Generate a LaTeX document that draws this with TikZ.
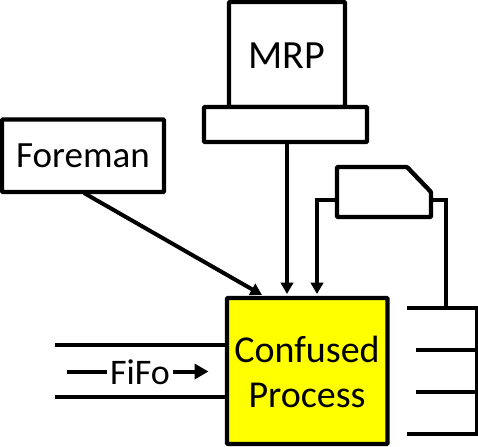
\documentclass[tikz,border=0pt]{standalone}
\usepackage{fontspec}
\setmainfont{Carlito}
\usetikzlibrary{arrows.meta}
\definecolor{cProc}{RGB}{255,255,0}
\tikzset{
  box/.style={draw=black,line width=4.4pt,rounded corners=1pt,inner sep=0pt,outer sep=0pt,anchor=north west},
  lbl/.style={font=\fontsize{38}{45}\selectfont},
  conn/.style={draw=black,line width=4pt},
  lane/.style={draw=black,line width=4.8pt},
  flow/.style={conn,-{Triangle[length=11.5pt,width=12.5pt]}}
}
\begin{document}
\begin{tikzpicture}[x=1pt,y=-1pt]
\useasboundingbox (0,0) rectangle (478,446);
\node[box,minimum width=116pt,minimum height=105pt] (mrp) at (229,2) {};
\node[lbl,font=\fontsize{40}{40}\selectfont] (mrplbl) at (286.5,56) {MRP};
\node[box,fill=white,minimum width=163pt,minimum height=35pt] (base) at (204,107) {};
\node[box,minimum width=162pt,minimum height=72.5pt] (foreman) at (2,119.5) {};
\node[lbl,font=\fontsize{37}{37}\selectfont] (forelbl) at (83,156) {Foreman};
\node[box,fill=cProc,minimum width=160.5pt,minimum height=146pt] (proc) at (227,298) {};
\node[lbl,align=center] (proclbl) at (307,371.5) {Confused\\Process};
% terminal
\draw[line width=4.4pt,rounded corners=1pt] (337,167) -- (407,167) -- (431,192) -- (431,217) -- (337,217) -- cycle;
\coordinate (termL) at (337,200);
\coordinate (termR) at (431,200);
\coordinate (termIn) at (317,294);
\coordinate (rackIn) at (446,308);
\draw[flow] (termL) -- (317,200) -- (termIn);
\draw[conn] (termR) -- (446,200) -- (rackIn);
% arrows into the process
\coordinate (mrpIn) at (287,294);
\coordinate (foreOut) at (84,193);
\coordinate (foreIn) at (262,295);
\draw[flow] (base.south -| mrpIn) -- (mrpIn);
\draw[flow] (foreOut) -- (foreIn);
% rack
\draw[conn] (407,308) -- (476.5,308) -- (476.5,434) -- (407,434);
\foreach \yy in {350,392} {
  \draw[conn] (416,\yy) -- (476.5,\yy);
}
% fifo lane
\coordinate (fifoT) at (54.5,345);
\coordinate (fifoB) at (54.5,397);
\draw[lane] (fifoT) -- (fifoT -| proc.west);
\draw[lane] (fifoB) -- (fifoB -| proc.west);
\node[lbl,font=\fontsize{36}{36}\selectfont,inner sep=3pt] (fifo) at (140,372) {FiFo};
\coordinate (fifoS) at (66.5,371.5);
\coordinate (fifoE) at (208.5,371.5);
\draw[conn] (fifoS) -- (fifo.west |- fifoS);
\draw[conn,-{Triangle[length=14pt,width=15pt]}] (fifo.east |- fifoE) -- (fifoE);
\end{tikzpicture}
\end{document}
